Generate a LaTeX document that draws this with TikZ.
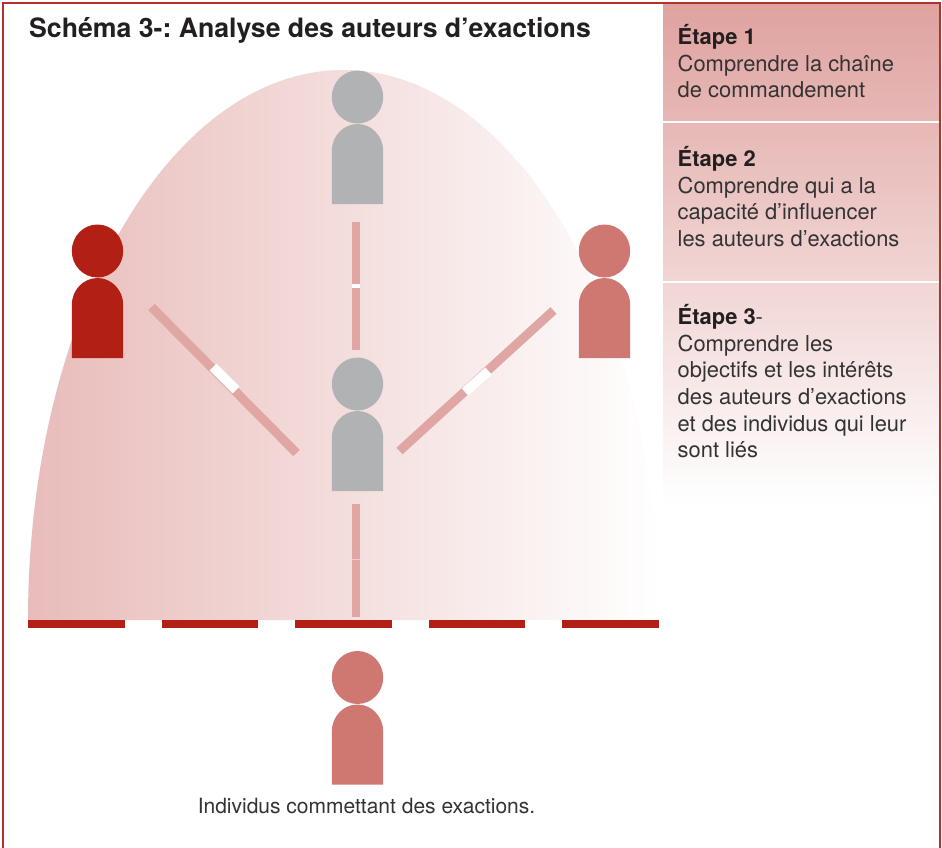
\documentclass[tikz,border=0pt]{standalone}
\usepackage{fontspec}
\setmainfont{TeX Gyre Heros}
\frenchspacing
\definecolor{frameRed}{HTML}{B5302B}
\definecolor{deepRed}{HTML}{B22015}
\definecolor{midRed}{HTML}{CF7871}
\definecolor{grayPerson}{HTML}{B0B2B3}
\definecolor{barPink}{HTML}{E0A6A3}
\definecolor{seamPink}{HTML}{EFCDCA}
\definecolor{domeLeft}{HTML}{E8BCBA}
\definecolor{domeMid}{HTML}{F4DCDC}
\definecolor{panelTop}{HTML}{DFA29F}
\definecolor{bodyText}{HTML}{333333}
\definecolor{headText}{HTML}{231F20}
\tikzset{
  x=1pt,y=-1pt,
  bar/.style={line width=8pt,draw=barPink,line cap=butt},
  diagbar/.style={line width=9pt,draw=barPink,line cap=butt},
  gapbar/.style={line width=8.6pt,draw=white,line cap=butt},
  seambar/.style={line width=8pt,draw=seamPink,line cap=butt},
  diaggap/.style={line width=9.6pt,draw=white,line cap=butt},
  dashbar/.style={fill=deepRed},
  steptext/.style={anchor=north west,inner sep=0pt,align=left,text=bodyText,font=\fontsize{21.9}{26.7}\selectfont},
  pics/person/.style={code={
    \fill[#1] (0,-27) ellipse[x radius=25.7pt,y radius=26.5pt];
    \fill[#1] (-25.7,80) -- (-25.7,27) arc[start angle=180,end angle=0,x radius=25.7pt,y radius=27pt] -- (25.7,80) -- cycle;
  }}
}
\newcommand{\stepname}[1]{{\bfseries\color{headText}#1}}
\begin{document}
\begin{tikzpicture}
\useasboundingbox (0,0) rectangle (942,848);
\fill[white] (0,0) rectangle (942,848);
% dome
\shade[left color=domeLeft,middle color=domeMid,right color=white]
  (28,620) .. controls (28,316.2) and (169.3,70) .. (343.5,70)
  .. controls (517.7,70) and (659,316.2) .. (659,620) -- cycle;
% panel
\shade[top color=panelTop,bottom color=white] (663,3) rectangle (939.5,505);
\fill[white] (663,120.7) rectangle (940,123.3);
\fill[white] (663,280.7) rectangle (940,283.4);
% frame
\draw[frameRed,line width=1.4pt] (3,848) -- (3,3) -- (939.8,3) -- (939.8,848);
% base line
\foreach \xa/\xb in {28/124.5,161.7/258,295.3/391.7,429/525,562/659}
  \fill[dashbar] (\xa,620) rectangle (\xb,628.3);
% connector coordinates
\coordinate (ta) at (356,222);
\coordinate (tb) at (356,284);
\coordinate (tc) at (356,288);
\coordinate (td) at (356,350);
\coordinate (ba) at (356,504);
\coordinate (bs) at (356,558.7);
\coordinate (bt) at (356,559.7);
\coordinate (bb) at (356,617);
\coordinate (la) at (151.5,307);
\coordinate (lb) at (213,367);
\coordinate (lc) at (236,390);
\coordinate (ld) at (296.5,453);
\coordinate (ra) at (399.5,451);
\coordinate (rb) at (465,392);
\coordinate (rc) at (488.5,371);
\coordinate (rd) at (553.5,310.5);
% connectors
\draw[bar] (ta) -- (td);
\draw[gapbar] (tb) -- (tc);
\draw[bar] (ba) -- (bb);
\draw[seambar] (bs) -- (bt);
\draw[diagbar] (la) -- (ld);
\draw[diaggap] (lb) -- (lc);
\draw[diagbar] (ra) -- (rd);
\draw[diaggap] (rb) -- (rc);
% people
\pic at (357.5,124) {person=grayPerson};
\pic at (97.5,278) {person=deepRed};
\pic at (604.5,278) {person=midRed};
\pic at (357.5,411) {person=grayPerson};
\pic at (357.5,704.5) {person=midRed};
% texts
\node[anchor=base west,inner sep=0pt,text=headText,font=\fontsize{26.65}{30}\selectfont\bfseries] (title) at (29,38) {Schéma 3-: Analyse des auteurs d’exactions};
\node[steptext] (s1) at (677.5,24) {\stepname{Étape 1}\\Comprendre la chaîne\\de commandement};
\node[steptext] (s2) at (677.5,146) {\stepname{Étape 2}\\Comprendre qui a la\\capacité d’influencer\\les auteurs d’exactions};
\node[steptext] (s3) at (677.5,304) {\stepname{Étape 3}-\\Comprendre les\\objectifs et les intérêts\\des auteurs d’exactions\\et des individus qui leur\\sont liés};
\node[anchor=base,inner sep=0pt,text=bodyText,font=\fontsize{21}{26}\selectfont] (cap) at (366.5,813) {Individus commettant des exactions.};
\end{tikzpicture}
\end{document}
